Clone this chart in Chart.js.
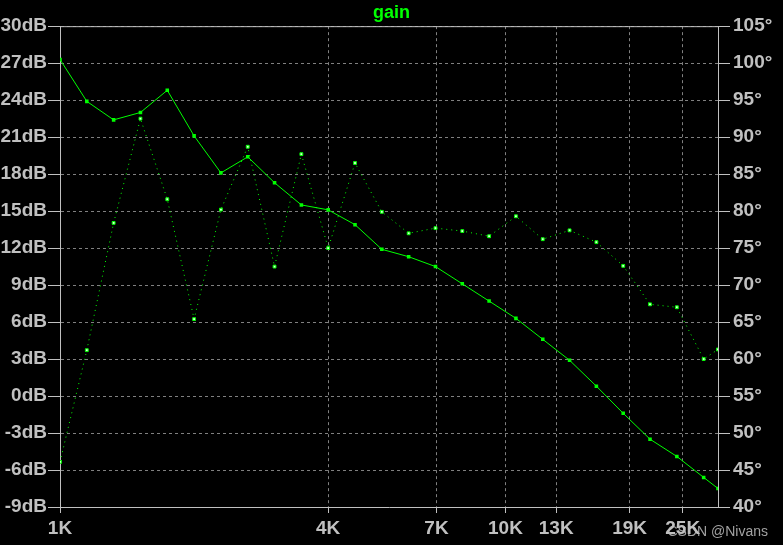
<!DOCTYPE html>
<html>
<head>
<meta charset="utf-8">
<title>gain</title>
<script src="https://cdn.jsdelivr.net/npm/chart.js@4.4.1/dist/chart.umd.min.js"></script>
<style>
    html, body { margin: 0; padding: 0; background: #000; }
    #chart-wrap { width: 783px; height: 545px; }
</style>
</head>
<body>
<div id="chart-wrap"><canvas id="gainChart" width="783" height="545"></canvas></div>
<script>
// frequency points (Hz), 5 per octave from 1K, last one at 30K
const freqs = [1000, 1148.7, 1319.5, 1515.7, 1741.1, 2000, 2297.4, 2639.0, 3031.4, 3482.2,
    4000, 4594.8, 5278.0, 6062.9, 6964.4, 8000, 9189.6, 10556.1, 12125.7, 13928.8,
    16000, 18379.2, 21112.1, 24251.5, 27857.6, 30000];

// magnitude (dB) - solid trace
const gainDb = [27.3, 23.9, 22.4, 23.0, 24.8, 21.1, 18.1, 19.4, 17.3, 15.5,
    15.1, 13.9, 11.9, 11.3, 10.5, 9.1, 7.7, 6.3, 4.6, 2.9,
    0.8, -1.4, -3.5, -4.9, -6.6, -7.5];

// phase (deg) - dotted trace
const phaseDeg = [46.1, 61.2, 78.4, 92.5, 81.6, 65.4, 80.2, 88.7, 72.5, 87.7,
    75.0, 86.5, 79.9, 77.0, 77.7, 77.3, 76.6, 79.3, 76.2, 77.4,
    75.8, 72.6, 67.4, 67.0, 60.0, 61.3];

// x tick labels (kHz)
const freqTicks = [1000, 4000, 7000, 10000, 13000, 19000, 25000];

const GREEN = '#00ff00';
const GRID = '#808080';
const LABEL = '#c0c0c0';
const tickFont = { family: "'Liberation Sans', Arial, sans-serif", size: 19, weight: 'bold' };

// top edge of the plot + watermark
const framePlugin = {
    id: 'frame',
    beforeDatasetsDraw(chart) {
        const { ctx, chartArea: a } = chart;
        ctx.save();
        ctx.strokeStyle = LABEL;
        ctx.lineWidth = 1;
        ctx.beginPath();
        ctx.moveTo(a.left, a.top + 0.5);
        ctx.lineTo(a.right, a.top + 0.5);
        ctx.stroke();
        ctx.restore();
    },
    afterDraw(chart) {
        const { ctx, width, height } = chart;
        ctx.save();
        ctx.font = "14px 'Liberation Sans', Arial, sans-serif";
        ctx.fillStyle = 'rgba(190,190,190,0.85)';
        ctx.textAlign = 'right';
        ctx.textBaseline = 'alphabetic';
        ctx.fillText('CSDN @Nivans', width - 15, height - 9);
        ctx.restore();
    }
};

function renderGainChart() {
    const ctx = document.getElementById('gainChart').getContext('2d');
    if (window.gainChart instanceof Chart) window.gainChart.destroy();

    window.gainChart = new Chart(ctx, {
        type: 'line',
        data: {
            datasets: [
                {
                    label: 'gain dB',
                    data: freqs.map((f, i) => ({ x: f, y: gainDb[i] })),
                    yAxisID: 'yDb',
                    borderColor: GREEN,
                    borderWidth: 1,
                    backgroundColor: GREEN,
                    pointStyle: 'rect',
                    pointRadius: 2.5,
                    pointBorderWidth: 0,
                    tension: 0
                },
                {
                    label: 'gain phase',
                    data: freqs.map((f, i) => ({ x: f, y: phaseDeg[i] })),
                    yAxisID: 'yPh',
                    borderColor: GREEN,
                    borderWidth: 1,
                    borderDash: [1, 4],
                    backgroundColor: '#d8ffd8',
                    pointStyle: 'rect',
                    pointRadius: 2,
                    pointBorderColor: GREEN,
                    pointBorderWidth: 1,
                    tension: 0
                }
            ]
        },
        options: {
            responsive: false,
            animation: false,
            devicePixelRatio: 1,
            layout: { padding: 0 },
            plugins: {
                legend: { display: false },
                tooltip: { enabled: false },
                title: {
                    display: true,
                    text: 'gain',
                    color: GREEN,
                    font: { family: "'Liberation Sans', Arial, sans-serif", size: 18, weight: 'bold', lineHeight: 1.12 },
                    padding: { top: 3, bottom: 3 }
                }
            },
            scales: {
                x: {
                    type: 'logarithmic',
                    min: 1000,
                    max: 30000,
                    afterBuildTicks: s => { s.ticks = freqTicks.map(v => ({ value: v })); },
                    afterFit: s => { s.height = 38; },
                    ticks: {
                        color: LABEL,
                        font: tickFont,
                        autoSkip: false,
                        maxRotation: 0,
                        padding: 4,
                        callback: v => (v / 1000) + 'K'
                    },
                    grid: { color: GRID, tickColor: LABEL, tickLength: 6, tickBorderDash: [] },
                    border: { display: true, color: LABEL, dash: [3, 3] }
                },
                yDb: {
                    type: 'linear',
                    position: 'left',
                    min: -9,
                    max: 30,
                    afterFit: s => { s.width = 60; },
                    ticks: { stepSize: 3, color: LABEL, font: tickFont, padding: 1, callback: v => v + 'dB' },
                    grid: { color: GRID, tickColor: LABEL, tickLength: 12, tickBorderDash: [] },
                    border: { display: true, color: LABEL, dash: [3, 3] }
                },
                yPh: {
                    type: 'linear',
                    position: 'right',
                    min: 40,
                    max: 105,
                    afterFit: s => { s.width = 65; },
                    ticks: { stepSize: 5, color: LABEL, font: tickFont, padding: 3, callback: v => v + '°' },
                    grid: { drawOnChartArea: false, tickColor: LABEL, tickLength: 12 },
                    border: { display: true, color: LABEL }
                }
            }
        },
        plugins: [framePlugin]
    });
}

renderGainChart();
</script>
</body>
</html>
